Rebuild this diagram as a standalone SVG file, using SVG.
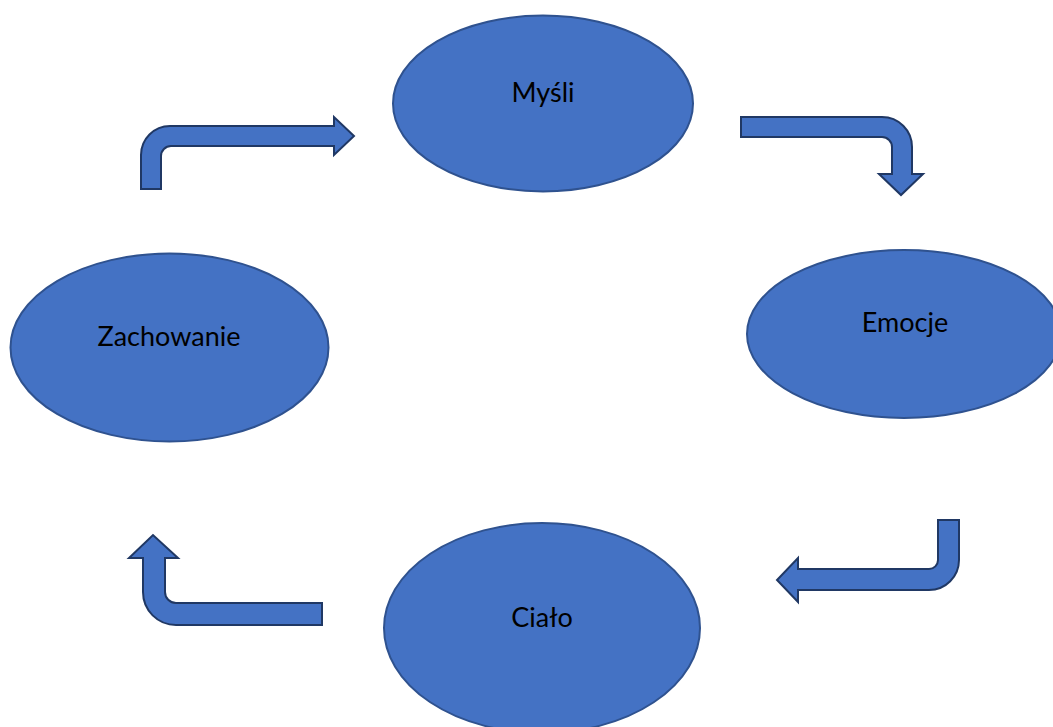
<svg xmlns="http://www.w3.org/2000/svg" width="1053" height="727" viewBox="0 0 1053 727">
<style>
.node{fill:#4472C4;stroke:#2F528F;stroke-width:2}
.arrow{fill:#4472C4;stroke:#203864;stroke-width:2;stroke-linejoin:miter}
.label{font-family:Lato,"Open Sans","Liberation Sans",sans-serif;font-size:27px;fill:#000;text-anchor:middle}
</style>
<rect width="1053" height="727" fill="#fff"/>
<g id="connectors">
<path class="arrow" d="M141,189 L141,155 A29,29 0 0 1 170,126 L334,126 L334,117 L354,136 L334,155 L334,146 L171,146 A10,10 0 0 0 161,156 L161,189 Z"/>
<path class="arrow" d="M741,117 L882,117 A30,30 0 0 1 912,147 L912,174 L923,174 L901,195 L879,174 L892,174 L892,147 A10,10 0 0 0 882,137 L741,137 Z"/>
<path class="arrow" d="M938,520 L959,520 L959,560 A30,30 0 0 1 929,590 L798,590 L798,602 L777,580 L798,558 L798,569 L929,569 A9,9 0 0 0 938,560 Z"/>
<path class="arrow" d="M322,603 L322,625 L176,625 A33,33 0 0 1 143,592 L143,558 L129,558 L153,535 L178,558 L165,558 L165,592 A11,11 0 0 0 176,603 Z"/>
</g>
<g id="mysli">
<ellipse class="node" cx="543" cy="103.5" rx="150" ry="88"/>
<text class="label" x="543" y="102">Myśli</text>
</g>
<g id="emocje">
<ellipse class="node" cx="904" cy="334" rx="157" ry="84"/>
<text class="label" x="905" y="332">Emocje</text>
</g>
<g id="cialo">
<ellipse class="node" cx="542" cy="628" rx="158" ry="105"/>
<text class="label" x="542" y="627">Ciało</text>
</g>
<g id="zachowanie">
<ellipse class="node" cx="169.5" cy="347.5" rx="159" ry="94"/>
<text class="label" x="169" y="346">Zachowanie</text>
</g>
</svg>
